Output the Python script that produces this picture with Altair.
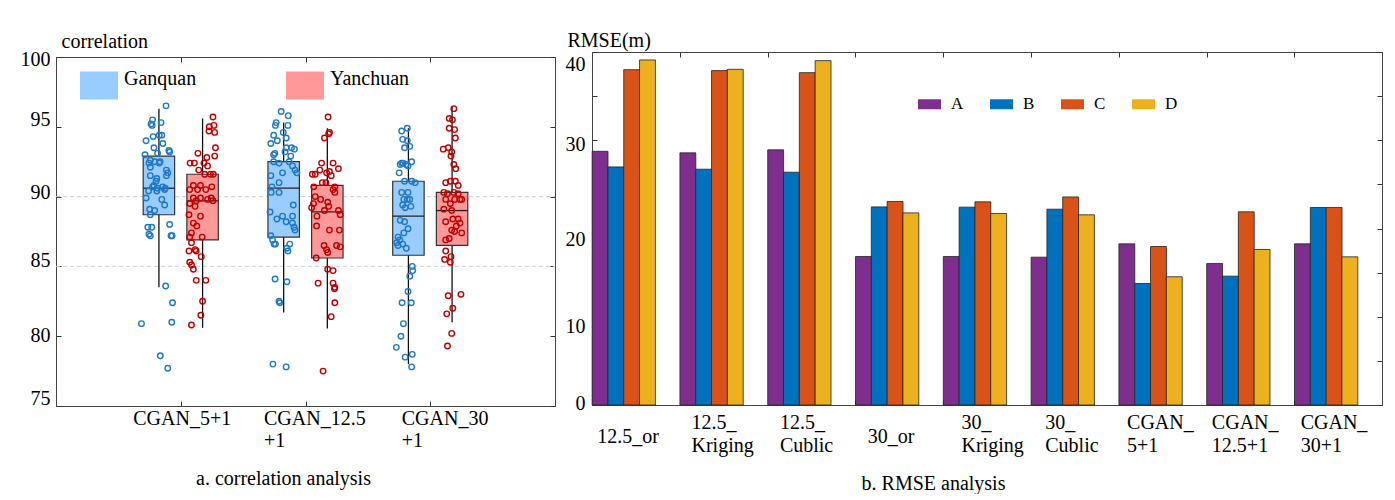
import json
import altair as alt
import pandas as pd

FONT = "Liberation Serif"

# ---------------- panel a: correlation ----------------
groups = ["CGAN_5+1", "CGAN_12.5+1", "CGAN_30+1"]
group_label_lines = [["CGAN_5+1"], ["CGAN_12.5", "+1"], ["CGAN_30", "+1"]]
regions = ["Ganquan", "Yanchuan"]

gan_lo = [83.5, 81.7, 78.0]
gan_q1 = [88.7, 87.1, 85.8]
gan_med = [90.6, 90.6, 88.6]
gan_q3 = [92.9, 92.5, 91.1]
gan_hi = [96.3, 95.3, 94.9]

yan_lo = [80.6, 80.55, 81.0]
yan_q1 = [86.9, 85.6, 86.5]
yan_med = [89.7, 88.9, 89.0]
yan_q3 = [91.6, 90.8, 90.3]
yan_hi = [95.6, 94.9, 96.45]

g1_gan_vals = [96.5, 95.3, 95.5, 95.2, 95.1, 94.0, 94.3, 94.4, 94.4, 93.8, 93.5, 93.3, 93.2, 93.0, 93.1,
               92.6, 92.4, 92.5, 92.4, 92.5, 92.1, 91.9, 91.7, 91.5, 91.3, 91.5, 90.8, 91.1, 90.7, 90.6,
               90.7, 90.6, 90.4, 90.4, 90.5, 89.8, 89.9, 89.4, 89.1, 89.0, 88.7, 88.0, 87.8, 87.8, 87.3,
               87.2, 87.2, 87.2, 83.6, 82.4, 80.9, 81.0, 78.6, 77.7]
g1_gan_jit = [0.057, 0.017, -0.051, -0.063, -0.054, -0.103, -0.046, 0.003, 0.023, 0.031, -0.04, 0.08, 0.086,
              -0.111, -0.011, -0.069, -0.08, -0.034, 0.003, 0.009, -0.069, 0.06, 0.071, 0.06, -0.017, -0.069,
              -0.04, -0.023, -0.051, -0.011, 0.031, 0.051, -0.083, -0.017, 0.046, 0.023, -0.103, 0.046, -0.074,
              -0.034, -0.069, 0.086, -0.089, -0.057, -0.08, -0.069, 0.097, 0.106, 0.054, 0.109, -0.14, 0.103,
              0.011, 0.071]
g1_yan_vals = [95.7, 95.0, 95.1, 94.7, 94.6, 93.5, 93.1, 92.8, 92.9, 92.4, 92.4, 92.4, 92.2, 91.9, 91.6,
               91.6, 91.6, 90.8, 90.8, 90.7, 90.5, 90.5, 90.5, 89.9, 89.7, 89.9, 89.8, 89.9, 89.7, 89.5,
               89.3, 88.7, 88.6, 88.1, 87.9, 87.4, 87.1, 87.1, 86.7, 86.2, 86.1, 86.1, 85.7, 85.3, 85.1,
               84.8, 84.0, 84.0, 82.5, 81.5, 80.8]
g1_yan_jit = [0.083, 0.054, 0.091, 0.051, 0.097, 0.103, -0.037, 0.034, 0.097, -0.1, -0.066, 0.011, 0.04,
              -0.031, 0.017, 0.063, 0.086, -0.074, -0.017, 0.074, -0.103, -0.04, 0.026, -0.074, -0.051,
              -0.017, 0.04, 0.069, 0.083, -0.103, -0.06, -0.109, -0.017, -0.074, -0.046, -0.089, -0.003,
              -0.103, -0.089, -0.06, -0.109, -0.051, -0.011, -0.103, -0.089, -0.074, -0.051, 0.026, 0.0,
              -0.014, -0.089]
g2_gan_vals = [96.1, 95.8, 95.3, 95.1, 95.1, 94.6, 94.4, 94.2, 94.0, 93.8, 93.1, 93.0, 93.5, 93.5, 93.4,
               93.2, 92.9, 92.5, 92.4, 92.5, 92.2, 91.9, 91.7, 91.7, 91.5, 91.0, 90.7, 90.3, 90.3, 89.4,
               88.9, 88.6, 88.6, 88.4, 88.2, 88.1, 87.8, 87.6, 87.2, 86.9, 86.6, 86.6, 86.3, 86.6, 86.1,
               84.1, 83.9, 82.5, 82.4, 78.0, 77.8]
g2_gan_jit = [-0.02, 0.037, -0.06, -0.066, 0.034, -0.003, -0.08, 0.02, -0.051, -0.103, -0.071, -0.08, 0.02,
              0.063, 0.086, 0.011, 0.057, -0.08, -0.037, 0.043, 0.071, 0.091, -0.009, 0.106, -0.103, -0.037,
              -0.094, -0.1, -0.037, 0.077, -0.109, -0.009, 0.071, -0.054, 0.02, 0.071, 0.083, 0.091, -0.103,
              -0.089, -0.077, -0.066, 0.026, 0.049, 0.034, -0.069, 0.026, -0.037, -0.031, -0.086, 0.02]
g2_yan_vals = [95.7, 94.6, 94.5, 94.2, 92.4, 92.4, 92.0, 91.6, 91.6, 91.9, 91.7, 91.8, 91.5, 90.7, 91.0,
               91.0, 90.7, 90.5, 90.3, 90.0, 89.8, 89.5, 89.6, 89.3, 89.2, 89.0, 88.6, 89.0, 88.7, 87.6,
               87.9, 87.6, 86.5, 86.2, 86.5, 86.4, 86.0, 85.6, 84.8, 84.7, 83.8, 83.8, 83.5, 83.4, 82.4,
               81.4, 77.5]
g2_yan_jit = [0.006, 0.017, 0.011, -0.023, -0.046, 0.046, 0.089, -0.12, -0.097, -0.06, -0.006, 0.017, 0.031,
              -0.109, -0.04, -0.011, 0.06, 0.046, 0.06, -0.097, -0.054, -0.111, 0.003, 0.011, -0.126, -0.023,
              -0.083, 0.089, 0.103, 0.097, -0.086, 0.017, -0.026, -0.006, 0.074, 0.103, 0.003, -0.089, 0.003,
              0.046, -0.074, 0.046, 0.06, 0.057, 0.06, 0.031, -0.034]
g3_gan_vals = [94.9, 94.7, 94.1, 94.0, 93.6, 93.5, 92.4, 92.5, 92.3, 92.4, 92.3, 92.2, 91.7, 91.1, 91.1,
               91.0, 90.3, 90.3, 89.8, 89.8, 89.8, 89.4, 89.2, 89.3, 88.3, 88.2, 87.7, 87.4, 87.1, 86.9,
               86.7, 86.6, 86.3, 86.5, 85.0, 84.7, 84.3, 83.2, 82.4, 82.4, 80.9, 80.0, 79.2, 78.5, 78.7, 77.8]
g3_gan_jit = [-0.009, -0.054, -0.046, -0.009, 0.011, -0.031, -0.054, 0.026, -0.066, -0.043, -0.017, -0.003,
              -0.074, -0.031, 0.026, 0.054, -0.054, -0.003, -0.009, -0.037, 0.011, -0.046, -0.026, 0.02,
              -0.066, -0.031, -0.003, -0.037, -0.083, -0.069, -0.094, -0.046, -0.017, -0.083, 0.031, 0.034,
              0.011, -0.003, -0.051, 0.023, -0.04, -0.06, -0.097, -0.026, 0.031, 0.026]
g3_yan_vals = [96.3, 95.6, 95.5, 94.9, 94.8, 94.2, 93.4, 93.5, 93.2, 92.9, 92.3, 92.0, 91.0, 91.1, 91.1,
               90.8, 90.3, 90.2, 90.3, 90.2, 89.8, 89.8, 89.5, 89.8, 89.8, 89.1, 89.0, 88.4, 88.2, 88.4,
               88.1, 87.9, 87.6, 87.5, 87.4, 86.9, 87.0, 86.1, 85.7, 85.5, 85.3, 82.9, 83.0, 82.0, 81.6,
               80.2, 79.3]
g3_yan_jit = [0.014, -0.023, 0.003, -0.023, 0.02, 0.026, -0.071, -0.031, -0.003, -0.009, 0.014, 0.029,
              -0.051, -0.014, 0.026, 0.049, -0.066, -0.037, 0.014, 0.049, 0.077, -0.051, -0.014, 0.02, 0.063,
              -0.066, -0.003, 0.049, -0.051, 0.006, 0.063, 0.034, -0.003, 0.02, 0.077, -0.051, -0.023,
              -0.051, -0.009, -0.06, -0.014, -0.031, 0.071, 0.006, -0.043, -0.003, -0.037]

grid_levels = [85, 90]
corr_ticks = [75, 80, 85, 90, 95, 100]

# ---------------- panel b: RMSE ----------------
methods = ["12.5_or", "12.5_Kriging", "12.5_Cublic", "30_or", "30_Kriging", "30_Cublic",
           "CGAN_5+1", "CGAN_12.5+1", "CGAN_30+1"]
method_label_lines = [["12.5_or"], ["12.5_", "Kriging"], ["12.5_", "Cublic"], ["30_or"],
                      ["30_", "Kriging"], ["30_", "Cublic"], ["CGAN_", "5+1"], ["CGAN_", "12.5+1"],
                      ["CGAN_", "30+1"]]
series = ["A", "B", "C", "D"]
rmse_A = [28.75, 28.57, 28.91, 16.83, 16.83, 16.75, 18.26, 16.04, 18.26]
rmse_B = [26.98, 26.72, 26.38, 22.45, 22.42, 22.19, 13.77, 14.60, 22.38]
rmse_C = [38.00, 37.89, 37.66, 23.06, 23.02, 23.58, 17.96, 21.89, 22.38]
rmse_D = [39.10, 38.04, 39.02, 21.77, 21.70, 21.55, 14.53, 17.62, 16.79]
rmse_ticks_labeled = [0, 10, 20, 30, 40]
rmse_ticks = [0, 5, 10, 15, 20, 25, 30, 35, 40]

# ---------------- layout constants ----------------
LW, LH, LTOP = 499, 354, 5          # left panel: frame starts 5px below the group top
RW, RH = 790, 353
FRAME = "#444444"
REG_OFF = {"Ganquan": -0.175, "Yanchuan": 0.175}
BOX_HALF = 0.126
SER_OFF = {"A": -0.27, "B": -0.09, "C": 0.09, "D": 0.27}
BAR_HALF = 0.0905
R_DOMAIN = [0.638, 9.636]

# ---------------- build tables ----------------
box_rows = []
for i in range(3):
    for reg, (lo, q1, md, q3, hi) in {
        "Ganquan": (gan_lo, gan_q1, gan_med, gan_q3, gan_hi),
        "Yanchuan": (yan_lo, yan_q1, yan_med, yan_q3, yan_hi),
    }.items():
        c = i + 1 + REG_OFF[reg]
        box_rows.append(dict(group=groups[i], region=reg, xc=c, xl=c - BOX_HALF, xr=c + BOX_HALF,
                             lo=lo[i], q1=q1[i], med=md[i], q3=q3[i], hi=hi[i]))
box_df = pd.DataFrame(box_rows)

pts_src = [
    (0, "Ganquan", g1_gan_vals, g1_gan_jit), (0, "Yanchuan", g1_yan_vals, g1_yan_jit),
    (1, "Ganquan", g2_gan_vals, g2_gan_jit), (1, "Yanchuan", g2_yan_vals, g2_yan_jit),
    (2, "Ganquan", g3_gan_vals, g3_gan_jit), (2, "Yanchuan", g3_yan_vals, g3_yan_jit),
]
pt_rows = []
for i, reg, vals, jit in pts_src:
    assert len(vals) == len(jit)
    for v, j in zip(vals, jit):
        pt_rows.append(dict(group=groups[i], region=reg, px=i + 1 + REG_OFF[reg] + j, val=v))
pts_df = pd.DataFrame(pt_rows)
grid_df = pd.DataFrame({"level": grid_levels})

bar_rows = []
for k, m in enumerate(methods):
    for s, arr in zip(series, [rmse_A, rmse_B, rmse_C, rmse_D]):
        c = k + 1 + SER_OFF[s]
        bar_rows.append(dict(method=m, series=s, xl=c - BAR_HALF, xr=c + BAR_HALF, rmse=arr[k]))
bar_df = pd.DataFrame(bar_rows)

# ---------------- axes helpers ----------------
def tick_axis(orient, offset, values, domain=False):
    return alt.Axis(orient=orient, offset=offset, values=values, labels=False, domain=domain,
                    domainColor=FRAME, domainWidth=1,
                    ticks=True, tickSize=5, tickColor="#333333", tickWidth=1, title=None, grid=False)

left_x_labels = alt.Axis(
    orient="bottom", values=[1, 2, 3], ticks=False, tickSize=0, domain=True, domainColor=FRAME,
    domainWidth=1, grid=False,
    labelExpr=json.dumps(group_label_lines) + "[datum.value - 1]",
    labelAlign="left", labelOffset=alt.ExprRef(expr="[-48, -42, -29][datum.value - 1]"),
    labelBaseline="top", labelPadding=2, labelLineHeight=22, labelFontSize=20, labelFont=FONT,
    labelColor="black", labelFlush=False, labelOverlap=False,
    title="a. correlation analysis", titleX=227, titleY=78, titleAlign="center",
    titleBaseline="alphabetic", titleFontSize=20, titleFont=FONT, titleFontWeight="normal",
    titleColor="black")
left_y_labels = alt.Axis(
    orient="left", values=corr_ticks, ticks=False, tickSize=0, domain=True, domainColor=FRAME,
    domainWidth=1, grid=False,
    labelPadding=6, labelFontSize=20, labelFont=FONT, labelColor="black", labelBaseline="middle",
    labelOffset=alt.ExprRef(expr="[-7.5, -1, -6, -4.5, -7, 2][(datum.value - 75) / 5]"),
    labelFlush=False, labelOverlap=False,
    title="correlation", titleAngle=0, titleX=5, titleY=-5, titleAlign="left",
    titleBaseline="alphabetic", titleFontSize=20, titleFont=FONT, titleFontWeight="normal",
    titleColor="black")

xs_l = alt.Scale(domain=[0, 4], nice=False, zero=False)
ys_l = alt.Scale(domain=[75, 100], nice=False, zero=False, range=[LH, LTOP])

grid = alt.Chart(grid_df).mark_rule(color="#cfcfcf", strokeDash=[4, 3], strokeWidth=1).encode(
    x=alt.datum(0, type="quantitative", scale=xs_l, axis=None),
    x2=alt.datum(4),
    y=alt.Y("level:Q", scale=ys_l, axis=None),
)
whisk = alt.Chart(box_df).mark_rule(color="#111111", strokeWidth=1.3).encode(
    x=alt.X("xc:Q", scale=xs_l, axis=left_x_labels),
    y=alt.Y("lo:Q", scale=ys_l, axis=left_y_labels),
    y2="hi:Q",
)
boxes = alt.Chart(box_df).mark_bar(stroke="#333333", strokeWidth=1.2, opacity=1).encode(
    x=alt.X("xl:Q", scale=xs_l, axis=tick_axis("top", -LH, [1, 2, 3])),
    x2="xr:Q",
    y=alt.Y("q1:Q", scale=ys_l, axis=tick_axis("right", -LW, corr_ticks)),
    y2="q3:Q",
    fill=alt.Fill("region:N", scale=alt.Scale(domain=regions, range=["#99CCFF", "#FF9999"]),
                  legend=alt.Legend(orient="none", legendX=24, legendY=14, direction="horizontal",
                                    title=None, symbolType="M-1,-0.737H1V0.737H-1Z", symbolSize=1444,
                                    symbolStrokeWidth=0, labelFontSize=20, labelFont=FONT,
                                    labelColor="black", labelOffset=6, columnPadding=89, padding=0,
                                    labelBaseline="alphabetic")),
)
med = alt.Chart(box_df).mark_rule(color="#222222", strokeWidth=1.3).encode(
    x=alt.X("xl:Q", scale=xs_l, axis=tick_axis("bottom", -(LH - LTOP), [1, 2, 3], domain=True)),
    x2="xr:Q",
    y=alt.Y("med:Q", scale=ys_l, axis=tick_axis("left", -LW, corr_ticks, domain=True)),
)
pts = alt.Chart(pts_df).mark_point(filled=False, size=30, strokeWidth=1.4, opacity=1).encode(
    x=alt.X("px:Q", scale=xs_l, axis=None),
    y=alt.Y("val:Q", scale=ys_l, axis=None),
    stroke=alt.Stroke("region:N", scale=alt.Scale(domain=regions, range=["#1f78c8", "#c00000"]),
                      legend=None),
)
left = alt.layer(grid, whisk, boxes, med, pts).properties(width=LW, height=LH).resolve_axis(
    x="independent", y="independent")

# ---------------- right panel ----------------
right_x_labels = alt.Axis(
    orient="bottom", values=list(range(1, 10)), ticks=False, tickSize=0, domain=True,
    domainColor=FRAME, domainWidth=1, grid=False,
    labelExpr=json.dumps(method_label_lines) + "[datum.value - 1]",
    labelAlign="left",
    labelOffset=alt.ExprRef(expr="[-27, -20.6, -20, -20, -14, -18, -24, -27, -26][datum.value - 1]"),
    labelPadding=alt.ExprRef(expr="[31, 17.5, 17.5, 31, 17.5, 17.5, 17.5, 17.5, 17.5][datum.value - 1]"),
    labelBaseline="middle", labelLineHeight=23, labelFontSize=20, labelFont=FONT,
    labelColor="black", labelFlush=False, labelOverlap=False,
    title="b. RMSE analysis", titleX=341, titleY=84, titleAlign="center", titleBaseline="alphabetic",
    titleFontSize=20, titleFont=FONT, titleFontWeight="normal", titleColor="black")
right_y_labels = alt.Axis(
    orient="left", values=rmse_ticks_labeled, ticks=False, tickSize=0, domain=True,
    domainColor=FRAME, domainWidth=1, grid=False,
    labelPadding=7, labelFontSize=20, labelFont=FONT, labelColor="black", labelBaseline="middle",
    labelOffset=alt.ExprRef(expr="[-2, 10, 11, 4, 12][datum.value / 10]"),
    labelFlush=False, labelOverlap=False,
    title="RMSE(m)", titleAngle=0, titleX=-25, titleY=-6, titleAlign="left",
    titleBaseline="alphabetic", titleFontSize=20, titleFont=FONT, titleFontWeight="normal",
    titleColor="black")

xs_r = alt.Scale(domain=R_DOMAIN, nice=False, zero=False)
ys_r = alt.Scale(domain=[0, 40], nice=False)
bounds = [k + 1 - 0.362 for k in range(1, 9)]

bars = alt.Chart(bar_df).mark_bar(stroke="#222222", strokeWidth=0.8, opacity=1).encode(
    x=alt.X("xl:Q", scale=xs_r, axis=right_x_labels),
    x2="xr:Q",
    y=alt.Y("rmse:Q", scale=ys_r, axis=right_y_labels),
    y2=alt.datum(0),
    fill=alt.Fill("series:N", scale=alt.Scale(domain=series,
                                              range=["#7E2F8E", "#0072BD", "#D95319", "#EDB120"]),
                  legend=alt.Legend(orient="none", legendX=326, legendY=40.5, direction="horizontal",
                                    title=None, symbolType="M-1,-0.435H1V0.435H-1Z", symbolSize=529,
                                    symbolStrokeWidth=0, labelFontSize=17, labelFont=FONT,
                                    labelColor="black", labelOffset=10, columnPadding=26, padding=0,
                                    labelBaseline="middle")),
)
ticks_a = alt.Chart(bar_df).mark_point(opacity=0).encode(
    x=alt.X("xl:Q", scale=xs_r, axis=tick_axis("top", -RH, bounds)),
    y=alt.Y("rmse:Q", scale=ys_r, axis=tick_axis("right", -RW, rmse_ticks)),
)
ticks_b = alt.Chart(bar_df).mark_point(opacity=0).encode(
    x=alt.X("xr:Q", scale=xs_r, axis=tick_axis("bottom", -RH, bounds, domain=True)),
    y=alt.Y("rmse:Q", scale=ys_r, axis=tick_axis("left", -RW, rmse_ticks, domain=True)),
)
right = alt.layer(bars, ticks_a, ticks_b).properties(width=RW, height=RH).resolve_axis(
    x="independent", y="independent")

chart = alt.hconcat(left, right, spacing=8).resolve_scale(
    fill="independent", stroke="independent"
).properties(
    padding={"left": 11, "top": 21, "right": 0, "bottom": 0}
).configure(font=FONT).configure_view(stroke="transparent").configure_axis(grid=False)

chart.save("out.html", embed_options={"renderer": "svg", "actions": False})
